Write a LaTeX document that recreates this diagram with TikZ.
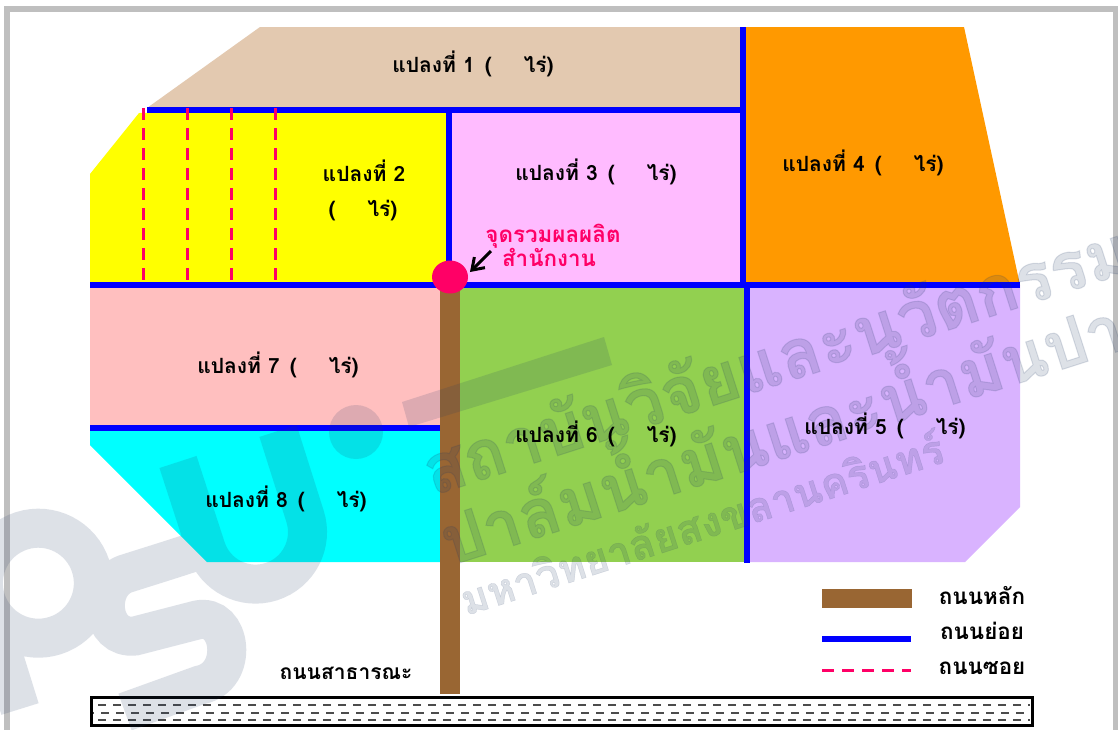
\documentclass[tikz,border=0pt]{standalone}
\usepackage{fontspec}
\usetikzlibrary{arrows.meta,shapes.geometric}
\setmainfont[Script=Thai]{Loma}
\definecolor{plotA}{HTML}{E3C9B0}
\definecolor{plotB}{HTML}{FFFF00}
\definecolor{plotC}{HTML}{FFBBFF}
\definecolor{plotD}{HTML}{FF9900}
\definecolor{plotE}{HTML}{D9B3FF}
\definecolor{plotF}{HTML}{92D050}
\definecolor{plotG}{HTML}{FFBFBF}
\definecolor{plotH}{HTML}{00FFFF}
\definecolor{mainroad}{HTML}{996633}
\definecolor{subroad}{HTML}{0000FF}
\definecolor{lane}{HTML}{FF0066}
\definecolor{frameg}{HTML}{BFBFBF}
\definecolor{wmark}{HTML}{1F3864}
\newcommand{\plotlab}[1]{แปลงที่ #1\hspace{10pt}(\hspace{32pt}ไร่)}
\tikzset{
  plotlabel/.style={font=\fontsize{21}{25}\selectfont\bfseries,inner sep=0pt,align=center},
  biglabel/.style={font=\fontsize{22.4}{26}\selectfont\bfseries,inner sep=0pt,align=center},
  parcel/.style={draw=none},
  subline/.style={draw=subroad,line width=6pt},
  laneline/.style={draw=lane,line width=3pt,dash pattern=on 12pt off 8pt},
  roadmain/.style={fill=mainroad,draw=none},
  wmtext/.style={text=wmark,text opacity=0.15,rotate=17.8,inner sep=0pt,anchor=base west},
  roaddash/.style={draw=black!70,line width=2pt,dash pattern=on 8pt off 7pt}
}
\begin{document}
\begin{tikzpicture}[x=1pt,y=-1pt]
\useasboundingbox (0,0) rectangle (1118,729);
\clip (0,0) rectangle (1118,729);
\fill[white] (0,0) rectangle (1118,729);
% frame
\draw[frameg,line width=6pt] (7,740) -- (7,9) -- (1116,9) -- (1116,740);
% parcels
\fill[plotA,parcel] (260,27) -- (743,27) -- (743,108) -- (147,108) -- cycle;
\fill[plotD,parcel] (743,27) -- (964,27) -- (1020,285) -- (743,285) -- cycle;
\fill[plotB,parcel] (139,113) -- (449,110) -- (449,285) -- (90,285) -- (90,174) -- cycle;
\fill[plotC,parcel] (449,110) rectangle (745,285);
\fill[plotG,parcel] (90,285) rectangle (440,430);
\fill[plotH,parcel] (90,430) -- (440,430) -- (440,562) -- (207,562) -- (90,445) -- cycle;
\fill[plotF,parcel] (460,285) rectangle (747,562);
\fill[plotE,parcel] (747,285) -- (1020,285) -- (1020,507) -- (965,562) -- (747,562) -- cycle;
% sub roads
\draw[subline] (147,110) -- (743,110);
\draw[subline] (743,27) -- (743,285);
\draw[subline] (449,110) -- (449,285);
\draw[subline] (90,285) -- (1020,285);
\draw[subline] (747,285) -- (747,563);
\draw[subline] (90,428) -- (440,428);
% lanes
\foreach \xx in {143,187,231,275}{\draw[laneline] (\xx,108) -- (\xx,285);}
% main road
\fill[roadmain] (440,285) rectangle (460,694);
\node[ellipse,fill=lane,draw=none,minimum width=36pt,minimum height=33pt,inner sep=0pt] (hub) at (450,277) {};
\coordinate (tail) at (491,251);
\coordinate (tip) at (470,272);
\draw[black,line width=3pt,-{Straight Barb[length=11pt,width=15pt]}] (tail) -- (tip);
% public road
\draw[black,line width=3pt] (91,697) rectangle (1032,725);
\draw[roaddash] (98,705) -- (1030,705);
\draw[roaddash,dash phase=7pt] (93,712.5) -- (1030,712.5);
\draw[roaddash] (98,720) -- (1030,720);
% legend
\fill[roadmain] (822,589) rectangle (912,608);
\draw[subline] (822,639) -- (911,639);
\draw[laneline] (822,670) -- (911,670);
% watermark
\begin{scope}[draw=wmark,fill=wmark,opacity=0.15]
\draw[line width=39pt]
  (20,709) -- (-14,600) arc[start angle=162.2,delta angle=360,radius=55]
  (206,548) .. controls (170,560) and (150,566) .. (125,574)
  .. controls (95,585) and (100,640) .. (135,636)
  -- (197,620) .. controls (232,612) and (240,677) .. (200,685)
  -- (125,712)
  (178,462) -- (206,548) arc[start angle=162.2,delta angle=-180,radius=52] -- (278,431);
\fill (356,432) circle[radius=27];
\fill (402,402) -- (604,337) -- (612,365) -- (409,427) -- cycle;
\end{scope}
\node[wmtext,font=\fontsize{68}{68}\selectfont\bfseries\addfontfeature{FakeBold=1.5}] (wmA) at (432,496) {สถาบันวิจัยและนวัตกรรม};
\node[wmtext,font=\fontsize{67}{67}\selectfont\bfseries\addfontfeature{FakeBold=1.5}] (wmB) at (450,566) {ปาล์มน้ำมันและน้ำมันปาล์ม};
\node[wmtext,font=\fontsize{41.5}{41.5}\selectfont\bfseries\addfontfeature{FakeBold=1}] (wmC) at (466,616) {มหาวิทยาลัยสงขลานครินทร์};
% labels
\node[plotlabel] (p1) at (473,64) {\plotlab{1}};
\node[plotlabel] (p2) at (364,171) {แปลงที่ 2};
\node[plotlabel] (p2b) at (363,211) {(\hspace{32pt}ไร่)};
\node[plotlabel] (p3) at (596,172) {\plotlab{3}};
\node[plotlabel] (p4) at (863,163) {\plotlab{4}};
\node[plotlabel] (p5) at (885,426) {\plotlab{5}};
\node[plotlabel] (p6) at (596,434) {\plotlab{6}};
\node[plotlabel] (p7) at (278,365) {\plotlab{7}};
\node[plotlabel] (p8) at (286,499) {\plotlab{8}};
\node[biglabel,text=lane] (hubA) at (553,236) {จุดรวมผลผลิต};
\node[biglabel,text=lane] (hubB) at (549,257) {สำนักงาน};
\node[plotlabel] (pub) at (346,673) {ถนนสาธารณะ};
\node[biglabel] (lgA) at (982,596) {ถนนหลัก};
\node[biglabel] (lgB) at (982,631) {ถนนย่อย};
\node[biglabel] (lgC) at (982,668) {ถนนซอย};
\end{tikzpicture}
\end{document}
